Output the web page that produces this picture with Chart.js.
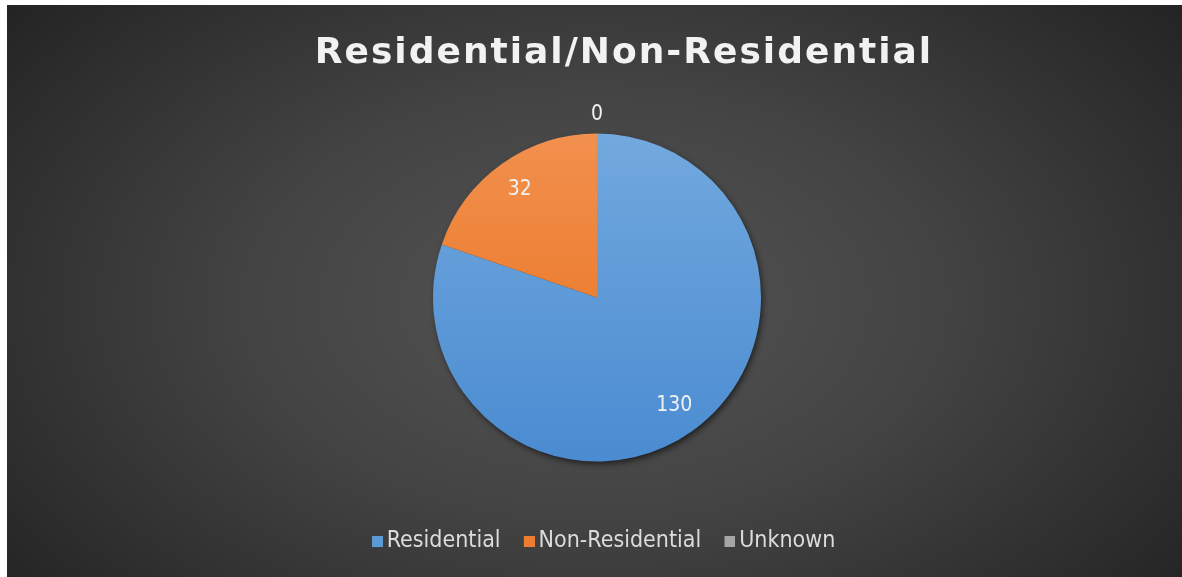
<!DOCTYPE html>
<html>
<head>
<meta charset="utf-8">
<title>Residential/Non-Residential</title>
<script src="https://cdn.jsdelivr.net/npm/chart.js@4.4.1/dist/chart.umd.min.js"></script>
<style>
  html, body { margin: 0; padding: 0; background: #fff; overflow: hidden; }
  #chart { position: absolute; left: 7px; top: 5px; }
</style>
</head>
<body>
<canvas id="chart" width="1175" height="572"></canvas>
<script>
// Data
const categories = ["Residential", "Non-Residential", "Unknown"];
const counts = [130, 32, 0];
const chartTitle = "Residential/Non-Residential";

// Colours (top / bottom of the slice gradient, flat legend swatch)
const sliceTop = ["#72a9de", "#f2904e", "#b4b4b4"];
const sliceBottom = ["#4a8bd1", "#e66f19", "#8f8f8f"];
const swatch = ["#5b9bd5", "#ed7d31", "#a5a5a5"];

const FONT = "'DejaVu Sans Condensed', 'DejaVu Sans', sans-serif";

// legend markers: 11px square sitting at the right end of a wider transparent image,
// so the gap between marker and text is tighter than Chart.js' default
function makeSwatch(color) {
  const c = document.createElement("canvas");
  c.width = 32;
  c.height = 11;
  const g = c.getContext("2d");
  g.fillStyle = color;
  g.fillRect(21, 0, 11, 11);
  return c;
}
const swatchImages = swatch.map(makeSwatch);

// Background + title
const backdrop = {
  id: "backdrop",
  beforeDraw(chart) {
    const ctx = chart.ctx;
    const w = chart.width, h = chart.height;
    ctx.save();
    ctx.translate(w / 2, h * 0.52);
    ctx.scale(1, 0.62);
    const g = ctx.createRadialGradient(0, 0, 0, 0, 0, 780);
    g.addColorStop(0, "#555555");
    g.addColorStop(0.45, "#434343");
    g.addColorStop(1, "#222222");
    ctx.fillStyle = g;
    ctx.fillRect(-w, -h * 2, w * 2, h * 4);
    ctx.restore();

    ctx.save();
    ctx.font = "bold 36px 'DejaVu Sans', sans-serif";
    ctx.letterSpacing = "2px";
    ctx.fillStyle = "#f2f2f2";
    ctx.textAlign = "center";
    ctx.textBaseline = "alphabetic";
    ctx.fillText(chartTitle, 617, 58);
    ctx.restore();
  },
};

// Soft shadow behind the pie
const pieShadow = {
  id: "pieShadow",
  beforeDatasetsDraw(chart) {
    const arc = chart.getDatasetMeta(0).data[0];
    if (!arc) return;
    const ctx = chart.ctx;
    ctx.save();
    ctx.shadowColor = "rgba(0,0,0,0.6)";
    ctx.shadowBlur = 6;
    ctx.shadowOffsetX = 2;
    ctx.shadowOffsetY = 3;
    ctx.fillStyle = "#333";
    ctx.beginPath();
    ctx.arc(arc.x, arc.y, arc.outerRadius - 0.5, 0, Math.PI * 2);
    ctx.fill();
    ctx.restore();
  },
};

// Value labels
const sliceLabels = {
  id: "sliceLabels",
  afterDatasetsDraw(chart) {
    const ctx = chart.ctx;
    const meta = chart.getDatasetMeta(0);
    ctx.save();
    ctx.font = "21px " + FONT;
    ctx.fillStyle = "#f2f2f2";
    ctx.textAlign = "center";
    ctx.textBaseline = "middle";
    meta.data.forEach((arc, i) => {
      const { x, y, startAngle, endAngle, outerRadius } = arc;
      const mid = (startAngle + endAngle) / 2;
      const dist = counts[i] > 0 ? outerRadius * 0.81 : outerRadius + 19;
      ctx.fillText(String(counts[i]), x + Math.cos(mid) * dist, y + Math.sin(mid) * dist);
    });
    ctx.restore();
  },
};

function sliceFill(context) {
  const i = context.dataIndex;
  const area = context.chart.chartArea;
  if (!area) return swatch[i];
  const cy = (area.top + area.bottom) / 2;
  const g = context.chart.ctx.createLinearGradient(0, cy - 164, 0, cy + 164);
  g.addColorStop(0, sliceTop[i]);
  g.addColorStop(1, sliceBottom[i]);
  return g;
}

const defaultLabels = Chart.overrides.pie.plugins.legend.labels.generateLabels;

new Chart(document.getElementById("chart"), {
  type: "pie",
  data: {
    labels: categories,
    datasets: [
      {
        data: counts,
        backgroundColor: sliceFill,
        borderWidth: 0,
        hoverOffset: 0,
        radius: 164,
      },
    ],
  },
  options: {
    responsive: false,
    animation: false,
    layout: { padding: { top: 70, bottom: 14, left: 5, right: 0 } },
    plugins: {
      title: { display: false },
      tooltip: { enabled: false },
      legend: {
        position: "bottom",
        labels: {
          color: "#dcdcdc",
          font: { family: FONT, size: 23 },
          usePointStyle: true,
          boxWidth: 16.5,
          boxHeight: 11,
          padding: 10,
          generateLabels(chart) {
            return defaultLabels(chart).map((item, i) => ({
              ...item,
              fillStyle: swatch[i],
              strokeStyle: swatch[i],
              lineWidth: 0,
              pointStyle: swatchImages[i],
            }));
          },
        },
      },
    },
  },
  plugins: [backdrop, pieShadow, sliceLabels],
});
</script>
</body>
</html>
